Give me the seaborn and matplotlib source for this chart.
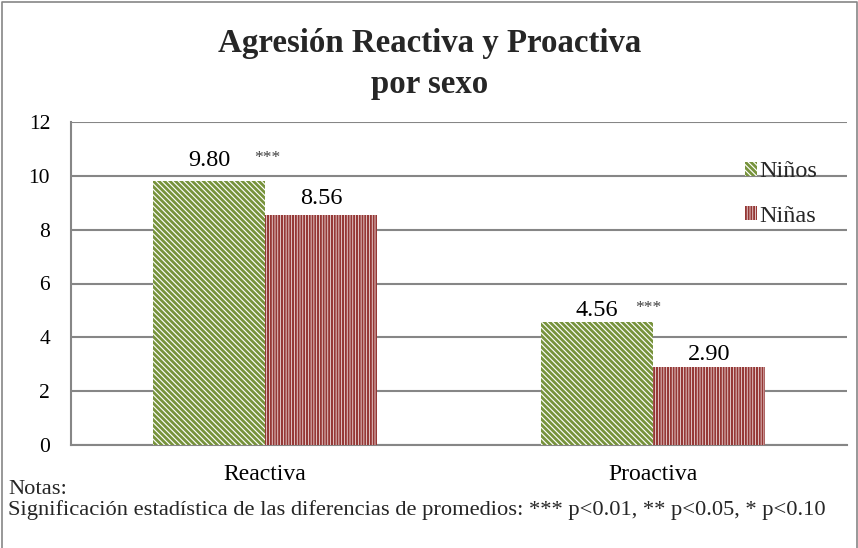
import matplotlib
matplotlib.use("Agg")
import matplotlib.pyplot as plt
import seaborn as sns
import pandas as pd
from matplotlib.patches import Patch
from matplotlib.lines import Line2D

# ---- data ----
categories = ["Reactiva", "Proactiva"]
groups = ["Niños", "Niñas"]
ninos = [9.80, 4.56]
ninas = [8.56, 2.90]
signif = ["***", "***"]
yticks = [0, 2, 4, 6, 8, 10, 12]
title = "Agresión Reactiva y Proactiva\npor sexo"
note1 = "Notas:"
note2 = ("Significación estadística de las diferencias de promedios: "
         "*** p<0.01, ** p<0.05, * p<0.10")

# ---- style ----
colors = ["#77933C", "#953735"]
hatches = ["\\" * 6, "|" * 6]
hatch_lw = [2.0, 1.5]
label_pad_px = [[15, 6], [11, 7]]   # gap between bar top and value label
star_dx_px = [58, 51]

sns.set_theme(style="white")
plt.rcParams['font.family'] = ['Liberation Serif', 'DejaVu Serif']
plt.rcParams['hatch.linewidth'] = 1.8

df = pd.DataFrame({
    "Tipo": categories * 2,
    "Sexo": [groups[0]] * len(categories) + [groups[1]] * len(categories),
    "Valor": ninos + ninas,
})

W, H = 858, 548
fig = plt.figure(figsize=(W / 100, H / 100), dpi=100)
ax = fig.add_axes([71 / W, 1 - 445 / H, (847 - 71) / W, (445 - 122) / H])

sns.barplot(data=df, x="Tipo", y="Valor", hue="Sexo", order=categories,
            hue_order=groups, palette=colors, width=0.577, errorbar=None,
            legend=False, ax=ax, zorder=3)

px2pt = 72 / 100
for gi, cont in enumerate(ax.containers):
    for bar in cont:
        bar.set_facecolor("white")
        bar.set_edgecolor(colors[gi])
        bar.set_linewidth(0)
        bar.set_hatch(hatches[gi])
        if hasattr(bar, "set_hatch_linewidth"):
            bar.set_hatch_linewidth(hatch_lw[gi])
    for bi, bar in enumerate(cont):
        xc = bar.get_x() + bar.get_width() / 2
        h = bar.get_height()
        ax.annotate(f"{h:.2f}", (xc, h),
                    xytext=(0, label_pad_px[gi][bi] * px2pt),
                    textcoords="offset points", ha="center", va="baseline",
                    fontsize=17.5, color="black")
        if gi == 0 and signif[bi]:
            ax.annotate(signif[bi], (xc, h),
                        xytext=(star_dx_px[bi] * px2pt,
                                (label_pad_px[gi][bi] + 16) * px2pt),
                        textcoords="offset points", ha="center", va="top",
                        fontsize=12.5, color="#404040")

ax.set_ylim(0, 12)
ax.set_yticks(yticks)
ax.set_xlabel("")
ax.set_ylabel("")
ax.tick_params(axis="both", length=0, colors="black")
ax.tick_params(axis="y", pad=15, labelsize=15.5)
ax.tick_params(axis="x", pad=14, labelsize=17)
ax.yaxis.grid(True, color="#868686", linewidth=1.5, zorder=0)
ax.set_axisbelow(True)
for s in ["top", "right"]:
    ax.spines[s].set_visible(False)
for s in ["left", "bottom"]:
    ax.spines[s].set_color("#868686")
    ax.spines[s].set_linewidth(1.5)

handles = []
for i in range(2):
    p = Patch(facecolor="white", edgecolor=colors[i], hatch=hatches[i],
              linewidth=0)
    handles.append(p)
leg = ax.legend(handles, groups, loc="center left",
                bbox_to_anchor=(733 / W, 1 - 194 / H),
                bbox_transform=fig.transFigure, frameon=False, fontsize=17.5,
                handlelength=0.5, handleheight=0.5, handletextpad=0.1,
                labelspacing=0.95, borderpad=0)
for i, hp in enumerate(leg.get_patches()):
    if hasattr(hp, "set_hatch_linewidth"):
        hp.set_hatch_linewidth(hatch_lw[i])

fig.text(430 / W, 1 - 64 / H, title, ha="center", va="center",
         fontsize=23.7, fontweight="bold", linespacing=1.4)
fig.text(8 / W, 1 - 489 / H, note1, ha="left", va="center", fontsize=16.2)
fig.text(8 / W, 1 - 510 / H, note2, ha="left", va="center", fontsize=16.2)

# outer frame of the chart area
frame = Line2D([1.5 / W, 1.5 / W, (W - 1.5) / W, (W - 1.5) / W],
               [0, 1 - 1.5 / H, 1 - 1.5 / H, 0],
               transform=fig.transFigure, color="#868686", linewidth=1.2)
fig.add_artist(frame)

fig.savefig("out.png", dpi=100, facecolor="white")
